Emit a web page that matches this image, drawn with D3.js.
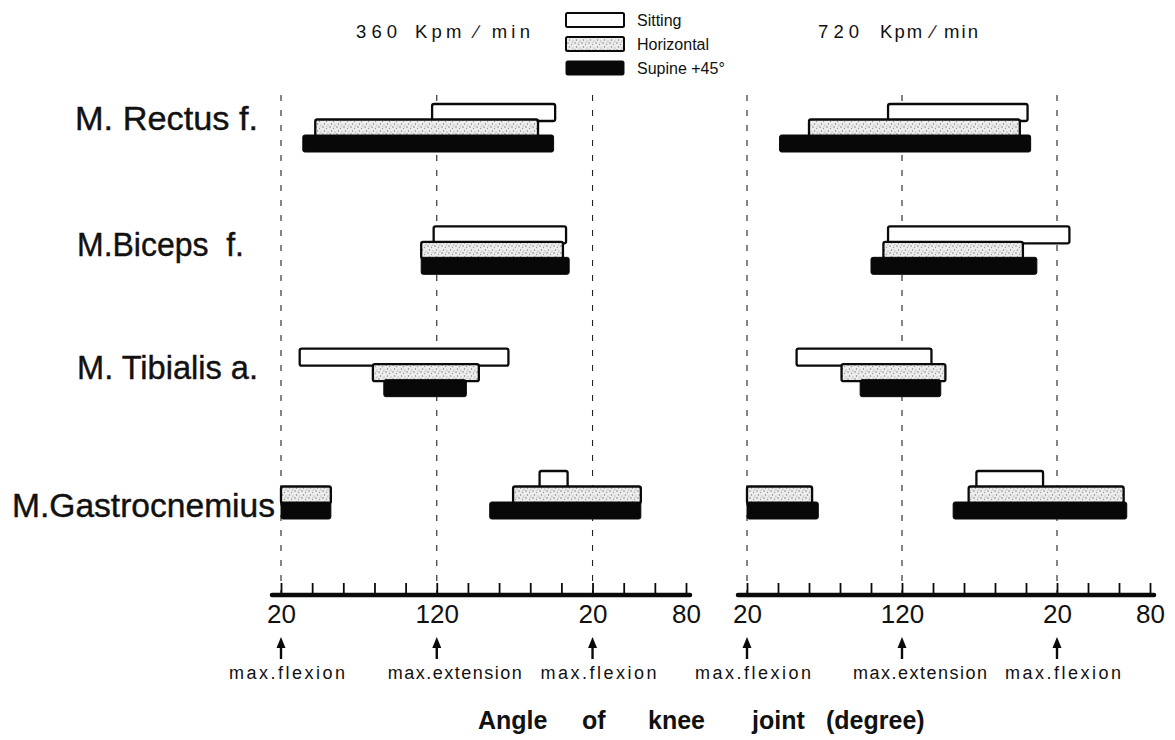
<!DOCTYPE html>
<html>
<head>
<meta charset="utf-8">
<script src="https://cdn.jsdelivr.net/npm/d3@7"></script>
<style>
  html, body { margin: 0; padding: 0; background: #fff; }
  svg { display: block; font-family: "Liberation Sans", Arial, sans-serif; }
</style>
</head>
<body>
<svg id="chart" width="1175" height="740"></svg>
<script>
// ---- data -------------------------------------------------------------
// Knee-angle cycle positions: 0 = max flexion (20°), 100 = max extension (120°),
// 200 = max flexion again (20°), 260 = 80° on the next extension.
const muscles = ["M. Rectus f.", "M.Biceps  f.", "M. Tibialis a.", "M.Gastrocnemius"];
const conditions = ["Sitting", "Horizontal", "Supine +45°"];
const workloadValues = ["3 6 0", "7 2 0"];
const workloadUnit = "Kpm ∕ min";

const tickValues = [0, 20, 40, 60, 80, 100, 120, 140, 160, 180, 200, 220, 240, 260];
const tickLabelValues = [0, 100, 200, 260];
const tickLabels = ["20", "120", "20", "80"];
const markerValues = [0, 100, 200];
const markerLabels = ["max.flexion", "max.extension", "max.flexion"];
const axisTitleWords = ["Angle", "of", "knee", "joint", "(degree)"];

// [muscle index, condition index, start, end]
const activity360 = [
  [0, 0, 97, 176], [0, 1, 22, 165], [0, 2, 14, 175],
  [1, 0, 98, 183], [1, 1, 90, 181], [1, 2, 90, 185],
  [2, 0, 12, 146], [2, 1, 59, 127], [2, 2, 66, 119],
  [3, 1, 0, 32], [3, 2, 0, 32],
  [3, 0, 166, 184], [3, 1, 149, 231], [3, 2, 134, 231]
];
const activity720 = [
  [0, 0, 91, 181], [0, 1, 40, 176], [0, 2, 21, 183],
  [1, 0, 91, 208], [1, 1, 88, 178], [1, 2, 80, 187],
  [2, 0, 32, 119], [2, 1, 61, 128], [2, 2, 73, 125],
  [3, 1, 0, 42], [3, 2, 0, 46],
  [3, 0, 148, 191], [3, 1, 143, 243], [3, 2, 133, 245]
];

// ---- layout -----------------------------------------------------------
const panels = [
  { value: workloadValues[0], data: activity360, range: [281, 686], numX: 356, unitX: 415, unitW: 115 },
  { value: workloadValues[1], data: activity720, range: [747, 1150], numX: 818, unitX: 880, unitW: 98 }
];
const labelLayout = [
  { x: 75, y: 130, w: 183 },
  { x: 77, y: 256, w: 167 },
  { x: 77, y: 379, w: 181 },
  { x: 12, y: 517, w: 263 }
];
const axisY = 595;
const guideTop = 95;

const svg = d3.select("#chart");
const defs = svg.append("defs");

// stippled fill for the horizontal-position bars
const pat = defs.append("pattern")
  .attr("id", "stipple").attr("patternUnits", "userSpaceOnUse")
  .attr("width", 7).attr("height", 7);
pat.append("rect").attr("width", 7).attr("height", 7).attr("fill", "#ededed");
[[1, 1, "#6a6a6a"], [4.5, 2.5, "#9a9a9a"], [2.5, 5, "#7a7a7a"], [6, 6, "#b0b0b0"], [5, 0.5, "#c4c4c4"]]
  .forEach(([cx, cy, c]) => pat.append("circle").attr("cx", cx).attr("cy", cy).attr("r", 0.7).attr("fill", c));

const fills = ["#ffffff", "url(#stipple)", "#080808"];

// rows: top of each muscle group, then a band per condition
const yRow = d3.scalePoint().domain(d3.range(muscles.length)).range([104, 471]);
const yCond = d3.scaleBand().domain(d3.range(conditions.length)).range([0, 46.5]);
const barH = yCond.bandwidth() + 1.5;

// muscle labels
svg.append("g").selectAll("text").data(muscles).join("text")
  .attr("x", (d, i) => labelLayout[i].x)
  .attr("y", (d, i) => labelLayout[i].y)
  .attr("textLength", (d, i) => labelLayout[i].w)
  .attr("lengthAdjust", "spacingAndGlyphs")
  .attr("font-size", 33)
  .attr("fill", "#111")
  .attr("stroke", "#111").attr("stroke-width", 0.4)
  .attr("xml:space", "preserve")
  .text(d => d);

panels.forEach(p => {
  const x = d3.scaleLinear().domain([0, 260]).range(p.range);
  const g = svg.append("g");

  // workload title
  g.append("text")
    .attr("x", p.numX).attr("y", 38)
    .attr("font-size", 18.5).attr("fill", "#111")
    .attr("xml:space", "preserve")
    .text(p.value);
  g.append("text")
    .attr("x", p.unitX).attr("y", 38)
    .attr("font-size", 18.5).attr("fill", "#111")
    .attr("textLength", p.unitW).attr("lengthAdjust", "spacing")
    .text(workloadUnit);

  // dashed guide lines at flexion / extension extremes
  g.selectAll("line.guide").data(markerValues).join("line")
    .attr("class", "guide")
    .attr("x1", d => x(d)).attr("x2", d => x(d))
    .attr("y1", guideTop).attr("y2", axisY)
    .attr("stroke", "#222").attr("stroke-width", 1.1)
    .attr("stroke-dasharray", "6 9");

  // activity bars, drawn condition by condition so lower bars overlap upper edges
  const sorted = p.data.slice().sort((a, b) => a[0] - b[0] || a[1] - b[1]);
  g.selectAll("rect.bar").data(sorted).join("rect")
    .attr("class", "bar")
    .attr("x", d => x(d[2]))
    .attr("width", d => x(d[3]) - x(d[2]))
    .attr("y", d => yRow(d[0]) + yCond(d[1]))
    .attr("height", barH)
    .attr("rx", 2)
    .attr("fill", d => fills[d[1]])
    .attr("stroke", "#0a0a0a")
    .attr("stroke-width", d => d[1] === 2 ? 1 : 2.3);

  // axis: thick base line with upward ticks
  g.append("line")
    .attr("x1", x.range()[0] - 9).attr("x2", x.range()[1] + 4)
    .attr("y1", axisY).attr("y2", axisY)
    .attr("stroke", "#0a0a0a").attr("stroke-width", 4.5).attr("stroke-linecap", "round");

  const tickAxis = d3.axisTop(x).tickValues(tickValues).tickSize(12).tickFormat("").tickSizeOuter(0);
  const ta = g.append("g").attr("transform", `translate(0,${axisY})`).call(tickAxis);
  ta.select(".domain").remove();
  ta.selectAll(".tick line").attr("stroke", "#0a0a0a").attr("stroke-width", 1.8);

  const labelAxis = d3.axisBottom(x).tickValues(tickLabelValues)
    .tickFormat((d, i) => tickLabels[i]).tickSize(0).tickPadding(0);
  const la = g.append("g").attr("transform", `translate(0,${axisY})`).call(labelAxis);
  la.select(".domain").remove();
  la.selectAll(".tick text")
    .attr("font-family", "Liberation Sans, Arial, sans-serif")
    .attr("font-size", 26).attr("fill", "#111")
    .attr("dy", 0).attr("y", 28);

  // arrows and marker captions
  const ar = g.selectAll("g.arrow").data(markerValues).join("g")
    .attr("class", "arrow")
    .attr("transform", d => `translate(${x(d)},0)`);
  ar.append("line").attr("y1", 645).attr("y2", 659)
    .attr("stroke", "#0a0a0a").attr("stroke-width", 2.4);
  ar.append("path").attr("d", "M0,637 L-4.5,648 L4.5,648 Z").attr("fill", "#0a0a0a");
  ar.append("text")
    .attr("x", (d, i) => i === 1 ? 18 : 6)
    .attr("y", 679)
    .attr("text-anchor", "middle")
    .attr("font-size", 18).attr("fill", "#111")
    .attr("textLength", (d, i) => i === 1 ? 134 : 116)
    .attr("lengthAdjust", "spacing")
    .text((d, i) => markerLabels[i]);
});

// legend
const legend = svg.append("g");
const legY = [13, 37, 61];
conditions.forEach((c, i) => {
  legend.append("rect")
    .attr("x", 566).attr("y", legY[i]).attr("width", 58).attr("height", 14).attr("rx", 1.5)
    .attr("fill", fills[i]).attr("stroke", "#0a0a0a").attr("stroke-width", i === 2 ? 1 : 2);
  legend.append("text")
    .attr("x", 637).attr("y", legY[i] + 13)
    .attr("font-size", 16).attr("fill", "#111")
    .text(c);
});

// axis title
const titleX = [478, 582, 648, 752, 826];
svg.append("g").selectAll("text").data(axisTitleWords).join("text")
  .attr("x", (d, i) => titleX[i]).attr("y", 729)
  .attr("font-size", 25).attr("font-weight", "bold")
  .attr("fill", "#111")
  .text(d => d);
</script>
</body>
</html>
